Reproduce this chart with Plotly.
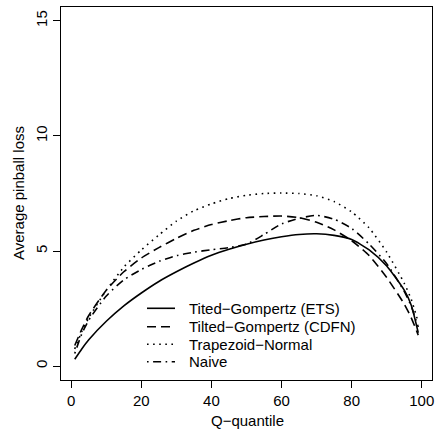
import plotly.graph_objects as go

q = [1, 3, 5, 10, 15, 20, 25, 30, 35, 40, 45, 50, 55, 60, 65, 70, 75, 80, 85, 90, 95, 97, 99]

ets = [0.3, 0.75, 1.15, 1.95, 2.62, 3.18, 3.68, 4.1, 4.48, 4.82, 5.08, 5.3, 5.48, 5.62, 5.72, 5.75, 5.68, 5.5, 5.05, 4.35, 3.3, 2.65, 1.45]
cdfn = [0.9, 1.6, 2.2, 3.3, 4.1, 4.7, 5.15, 5.55, 5.9, 6.15, 6.32, 6.45, 6.5, 6.52, 6.45, 6.25, 5.92, 5.45, 4.8, 3.85, 2.7, 2.1, 1.35]
trap = [0.75, 1.5, 2.1, 3.3, 4.3, 5.05, 5.7, 6.3, 6.75, 7.05, 7.28, 7.42, 7.5, 7.52, 7.5, 7.4, 7.15, 6.7, 6.0, 4.95, 3.6, 2.9, 1.9]
naive = [0.55, 1.4, 2.0, 3.05, 3.75, 4.2, 4.55, 4.8, 4.95, 5.06, 5.15, 5.3, 5.72, 6.18, 6.42, 6.55, 6.38, 5.98, 5.3, 4.45, 3.25, 2.6, 1.7]

names = ["Tited\u2212Gompertz (ETS)", "Tilted\u2212Gompertz (CDFN)", "Trapezoid\u2212Normal", "Naive"]
series = [ets, cdfn, trap, naive]
dashes = ["solid", "9px,5px", "1.6px,4.5px", "1.6px,4.5px,8px,4.5px"]

FAM = "Liberation Sans, Arial, Helvetica, sans-serif"
font = dict(family=FAM, size=15, color="black")

fig = go.Figure()
for nm, ys, d in zip(names, series, dashes):
    fig.add_trace(go.Scatter(x=q, y=ys, mode="lines", name=nm, showlegend=False,
                             line=dict(color="black", width=1.6, dash=d, shape="spline", smoothing=0.6)))

L, B, W, H = 61, 50, 371, 373
def px2paper(x, y):
    return (x - L) / W, (430 - B - y) / H

# manual legend (R-style, no box)
row_y = [308.3, 326.7, 344.3, 361.7]
for nm, d, ry in zip(names, dashes, row_y):
    x0, y0 = px2paper(147, ry)
    x1, _ = px2paper(175, ry)
    fig.add_shape(type="line", xref="paper", yref="paper", x0=x0, x1=x1, y0=y0, y1=y0,
                  line=dict(color="black", width=1.6, dash=d))
    tx, ty = px2paper(187, ry)
    fig.add_annotation(x=tx, y=ty, xref="paper", yref="paper", text=nm, showarrow=False,
                       xanchor="left", yanchor="middle", font=font)

# axis titles
xt, yt = px2paper(247, 420)
fig.add_annotation(x=xt, y=yt, xref="paper", yref="paper", text="Q\u2212quantile", showarrow=False,
                   xanchor="center", yanchor="middle", font=font)
xt, yt = px2paper(18, 193)
fig.add_annotation(x=xt, y=yt, xref="paper", yref="paper", text="Average pinball loss", showarrow=False,
                   xanchor="center", yanchor="middle", textangle=-90, font=font)

fig.update_layout(
    width=435, height=430,
    margin=dict(l=61, r=3, t=7, b=50, autoexpand=False),
    paper_bgcolor="white", plot_bgcolor="white",
    font=font,
    xaxis=dict(range=[-2.92, 102.92], tickvals=[0, 20, 40, 60, 80, 100], ticks="outside", ticklen=7,
               tickcolor="black", tickfont=font, showline=True, linecolor="black", linewidth=1, mirror=True,
               showgrid=False, zeroline=False, automargin=False),
    yaxis=dict(range=[-0.6, 15.6], tickvals=[0, 5, 10, 15], ticks="outside", ticklen=7, tickangle=-90,
               tickcolor="black", tickfont=font, showline=True, linecolor="black", linewidth=1, mirror=True,
               showgrid=False, zeroline=False, automargin=False),
)
fig.write_html("out.html")
